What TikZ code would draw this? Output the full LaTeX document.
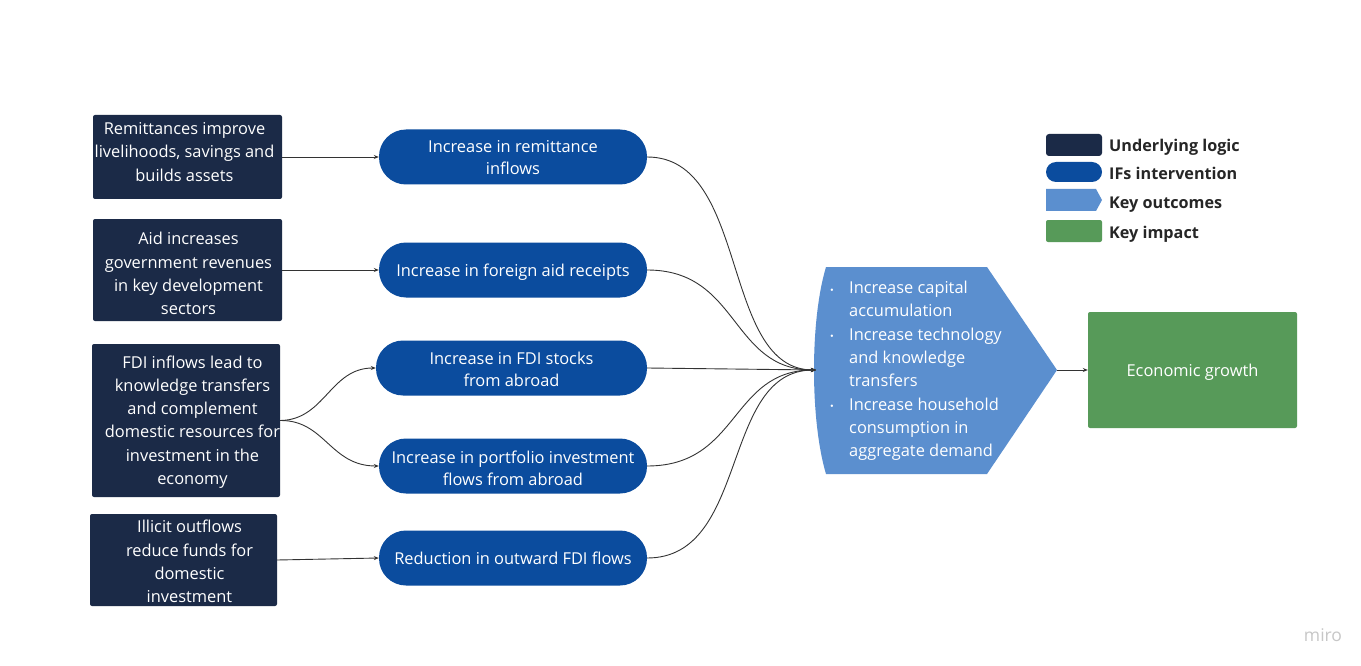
\documentclass[tikz,border=0pt]{standalone}
\usepackage{fontspec}
\setmainfont{Open Sans}
\usetikzlibrary{arrows.meta}
\definecolor{logicC}{HTML}{1B2A47}
\definecolor{ifsC}{HTML}{0B4C9E}
\definecolor{outC}{HTML}{5B8FCF}
\definecolor{impC}{HTML}{579A59}
\definecolor{lineC}{HTML}{333333}
\begin{document}
\begin{tikzpicture}[x=1pt,y=-1pt,
  txt/.style={font=\fontsize{16.4}{23.3}\selectfont, text=white, align=center, inner sep=0pt},
  logic/.style={fill=logicC, rounded corners=2pt, inner sep=0pt},
  ifs/.style={fill=ifsC, rounded corners=27pt, minimum height=55pt, inner sep=0pt},
  impact/.style={fill=impC, rounded corners=2pt, minimum width=209pt, minimum height=116pt, inner sep=0pt},
  legtxt/.style={font=\fontsize{16.2}{18}\selectfont\bfseries, text=black!85, anchor=base west, inner sep=0pt},
  conn/.style={draw=lineC, line width=0.9pt, -{Stealth[length=5pt,width=4pt]}}]
\useasboundingbox (0,0) rectangle (1361,666);
\fill[white] (0,0) rectangle (1361,666);

% underlying logic boxes
\node[logic, minimum width=189pt, minimum height=84pt] (l1) at (187.5,157) {};
\node[txt] (l1t) at ([xshift=-3pt,yshift=5pt]l1.center)
  {Remittances improve\\livelihoods, savings and\\builds assets};
\node[logic, minimum width=189pt, minimum height=102pt] (l2) at (187.5,270) {};
\node[txt] (l2t) at ([xshift=1pt,yshift=-3.5pt]l2.center)
  {Aid increases\\government revenues\\in key development\\sectors};
\node[logic, minimum width=188pt, minimum height=153pt] (l3) at (186,420.5) {};
\node[txt] (l3t) at ([xshift=6.5pt,yshift=-1.5pt]l3.center)
  {FDI inflows lead to\\knowledge transfers\\and complement\\domestic resources for\\investment in the\\economy};
\node[logic, minimum width=187pt, minimum height=92pt] (l4) at (183.5,560) {};
\node[txt] (l4t) at ([xshift=6pt,yshift=-1.5pt]l4.center)
  {Illicit outflows\\reduce funds for\\domestic\\investment};

% interventions
\node[ifs, minimum width=268pt] (i1) at (513,157) {};
\node[txt, font=\fontsize{16.4}{22}\selectfont] (i1t) at ([yshift=-1pt]i1.center) {Increase in remittance\\inflows};
\node[ifs, minimum width=268pt] (i2) at (513,270) {};
\node[txt] (i2t) at ([yshift=-2pt]i2.center) {Increase in foreign aid receipts};
\node[ifs, minimum width=271pt] (i3) at (511.5,368) {};
\node[txt, font=\fontsize{16.4}{22.5}\selectfont] (i3t) at ([yshift=-1.5pt]i3.center) {Increase in FDI stocks\\from abroad};
\node[ifs, minimum width=268pt] (i4) at (513,466) {};
\node[txt, font=\fontsize{16.4}{22}\selectfont] (i4t) at ([yshift=-2pt]i4.center) {Increase in portfolio investment\\flows from abroad};
\node[ifs, minimum width=268pt] (i5) at (513,558) {};
\node[txt] (i5t) at ([yshift=-0.5pt]i5.center) {Reduction in outward FDI flows};

% key outcomes
\fill[outC] (826,267) -- (987,267) -- (1057,370) -- (987,474) -- (826,474)
  .. controls (810,420) and (810,320) .. (826,267) -- cycle;
\coordinate (outL) at (816,370);
\coordinate (outR) at (1057,370);
\node[font=\fontsize{16.4}{23.3}\selectfont, text=white, align=left, anchor=north west, inner sep=0pt] (outtxt) at (830,281)
  {\makebox[19pt][l]{\raisebox{2.5pt}{\tiny$\bullet$}}Increase capital\\
   \hspace*{19pt}accumulation\\
   \makebox[19pt][l]{\raisebox{2.5pt}{\tiny$\bullet$}}Increase technology\\
   \hspace*{19pt}and knowledge\\
   \hspace*{19pt}transfers\\
   \makebox[19pt][l]{\raisebox{2.5pt}{\tiny$\bullet$}}Increase household\\
   \hspace*{19pt}consumption in\\
   \hspace*{19pt}aggregate demand};

% key impact
\node[impact] (imp) at (1192.5,370) {};
\node[txt] (impt) at ([yshift=-2.5pt]imp.center) {Economic growth};

% connectors
\draw[conn] (l1.east) -- (i1.west);
\draw[conn] (l2.east) -- (i2.west);
\draw[conn] (l3.east) .. controls (325,420) and (330,368) .. (i3.west);
\draw[conn] (l3.east) .. controls (325,420) and (330,466) .. (i4.west);
\draw[conn] (l4.east) -- (i5.west);
\draw[conn] (i1.east) .. controls (750,157) and (720,370) .. (outL);
\draw[conn] (i2.east) .. controls (740,270) and (730,370) .. (outL);
\draw[conn] (i3.east) -- (outL);
\draw[conn] (i4.east) .. controls (740,466) and (730,370) .. (outL);
\draw[conn] (i5.east) .. controls (750,558) and (720,370) .. (outL);
\draw[conn] (outR) -- (imp.west);

% legend
\fill[logicC, rounded corners=3pt] (1046,134) rectangle (1102,156);
\node[legtxt] (lg1) at (1109,152) {Underlying logic};
\fill[ifsC, rounded corners=10pt] (1046,162) rectangle (1102,182);
\node[legtxt] (lg2) at (1109,179) {IFs intervention};
\fill[outC] (1046,189) -- (1096,189) -- (1102,200) -- (1096,211) -- (1046,211) -- cycle;
\node[legtxt] (lg3) at (1109,208) {Key outcomes};
\fill[impC, rounded corners=2pt] (1046,220) rectangle (1102,242);
\node[legtxt] (lg4) at (1109,238) {Key impact};

% watermark
\node[font=\fontsize{17.5}{20}\selectfont, text=black!22, inner sep=0pt] (miro) at (1323,635) {miro};
\end{tikzpicture}
\end{document}
